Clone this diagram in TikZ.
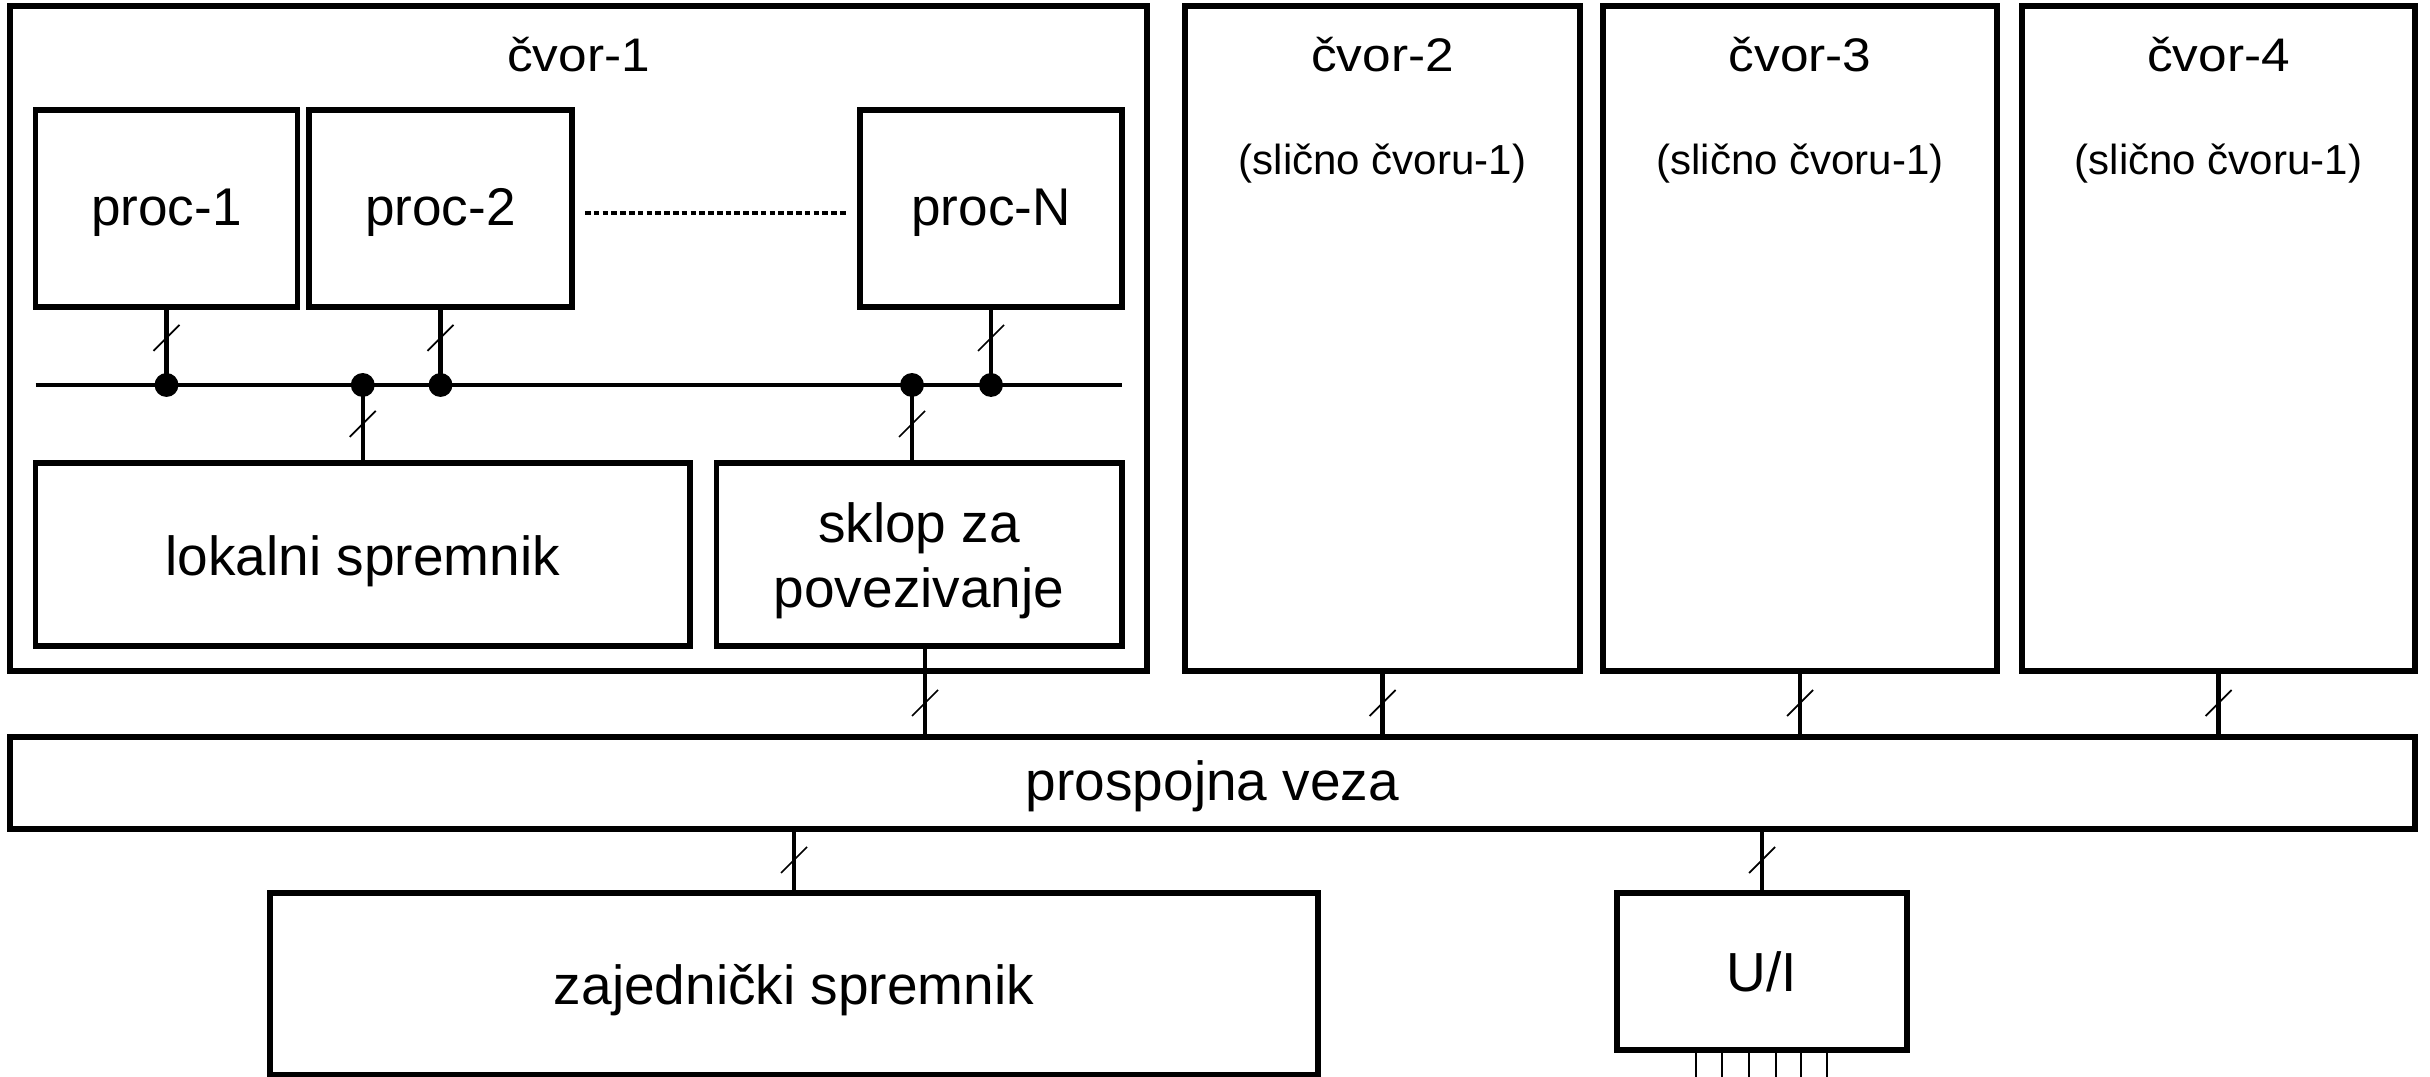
\documentclass[tikz,border=0pt]{standalone}
\usepackage{fontspec}
\usepackage{graphicx}
\setmainfont{Liberation Sans}
\usetikzlibrary{fit}
\newcommand\slsh[2]{\draw[slashline] (#1-13,#2+13) -- (#1+13,#2-13);}
\begin{document}
\begin{tikzpicture}[x=0.01cm,y=-0.01cm,
  box/.style={draw, line width=1.56pt, inner sep=0pt, outer sep=0pt, rectangle},
  conn/.style={line width=1.22pt},
  slashline/.style={line width=0.5pt},
  dotline/.style={line width=1pt, dash pattern=on 1.6pt off 0.9pt},
  tickline/.style={line width=0.37pt},
  jdot/.style={circle, fill, inner sep=0pt, outer sep=0pt, minimum size=6.8pt},
  lbl/.style={inner sep=0pt, outer sep=0pt, anchor=base, font=\fontsize{15.65pt}{18.5pt}\selectfont},
  prl/.style={lbl, font=\fontsize{15.1pt}{18pt}\selectfont},
  cvl/.style={lbl, font=\fontsize{13.4pt}{16pt}\selectfont},
  sml/.style={lbl, font=\fontsize{11.95pt}{14pt}\selectfont}
]
\useasboundingbox (0,0) rectangle (2430,1077);
\fill[white] (0,0) rectangle (2430,1077);

% boxes
\node[box, fit={(10,6) (1147,671)}] (n1) {};
\node[box, fit={(35.5,110) (297.5,307)}] (p1) {};
\node[box, fit={(309,110) (572,307)}] (p2) {};
\node[box, fit={(860,110) (1122,307)}] (pN) {};
\node[box, fit={(35.5,463) (690,646)}] (lok) {};
\node[box, fit={(716.5,463) (1122,646)}] (skl) {};
\node[box, fit={(1185,6) (1580,671)}] (n2) {};
\node[box, fit={(1603,6) (1997,671)}] (n3) {};
\node[box, fit={(2022,6) (2415,671)}] (n4) {};
\node[box, fit={(10,737) (2415,829)}] (pro) {};
\node[box, fit={(270,893) (1318,1075)}] (zaj) {};
\node[box, fit={(1617,893) (1907,1050)}] (ui) {};

% bus inside node 1
\coordinate (busw) at (35.5,385);
\coordinate (buse) at (1122,385);
\draw[conn] (busw) -- (buse);
\node[jdot] (j1) at (166.5,385) {};
\node[jdot] (j2) at (362.75,385) {};
\node[jdot] (j3) at (440.5,385) {};
\node[jdot] (j4) at (912,385) {};
\node[jdot] (j5) at (991,385) {};

\draw[conn] (p1.south) -- (j1.center);
\draw[conn] (p2.south) -- (j3.center);
\draw[conn] (pN.south) -- (j5.center);
\draw[conn] (j2.center) -- (lok.north);
\draw[conn] (j4.center) -- (j4.center |- skl.north);
\slsh{166.5}{338}
\slsh{440.5}{338}
\slsh{991}{338}
\slsh{362.75}{424}
\slsh{912}{424}

% dotted line between processors
\coordinate (d1) at (585,213);
\coordinate (d2) at (846,213);
\draw[dotline] (d1) -- (d2);

% connections to interconnect
\coordinate (skout) at (925,646);
\draw[conn] (skout) -- (skout |- pro.north);
\draw[conn] (n2.south) -- (n2.south |- pro.north);
\draw[conn] (n3.south) -- (n3.south |- pro.north);
\draw[conn] (n4.south) -- (n4.south |- pro.north);
\slsh{925}{703}
\slsh{1382.5}{703}
\slsh{1800}{703}
\slsh{2218.5}{703}

\draw[conn] (zaj.north |- pro.south) -- (zaj.north);
\draw[conn] (ui.north |- pro.south) -- (ui.north);
\slsh{794}{860}
\slsh{1762}{860}

% U/I lines
\foreach \x in {1696,1722,1749,1776,1801,1827}
  \draw[tickline] (\x,1050) -- (\x,1077);

% labels
\node[cvl] (tn1) at (578.5,72) {\scalebox{1.09}[1]{čvor-1}};
\node[cvl] (tn2) at (1382.5,72) {\scalebox{1.09}[1]{čvor-2}};
\node[cvl] (tn3) at (1800,72) {\scalebox{1.09}[1]{čvor-3}};
\node[cvl] (tn4) at (2218.5,72) {\scalebox{1.09}[1]{čvor-4}};
\node[sml] (ts2) at (1382.5,175) {(slično čvoru-1)};
\node[sml] (ts3) at (1800,175) {(slično čvoru-1)};
\node[sml] (ts4) at (2218.5,175) {(slično čvoru-1)};
\node[prl] (tp1) at (166.5,226) {proc-1};
\node[prl] (tp2) at (440.5,226) {proc-2};
\node[prl] (tpN) at (991,226) {proc-N};
\node[lbl] (tlok) at (362.75,576) {lokalni spremnik};
\node[lbl] (tsk1) at (919,543) {sklop za};
\node[lbl] (tsk2) at (919,608) {povezivanje};
\node[lbl] (tpro) at (1212.5,801) {prospojna veza};
\node[lbl] (tzaj) at (794,1005) {zajednički spremnik};
\node[lbl] (tui) at (1762,992) {U/I};
\end{tikzpicture}
\end{document}
